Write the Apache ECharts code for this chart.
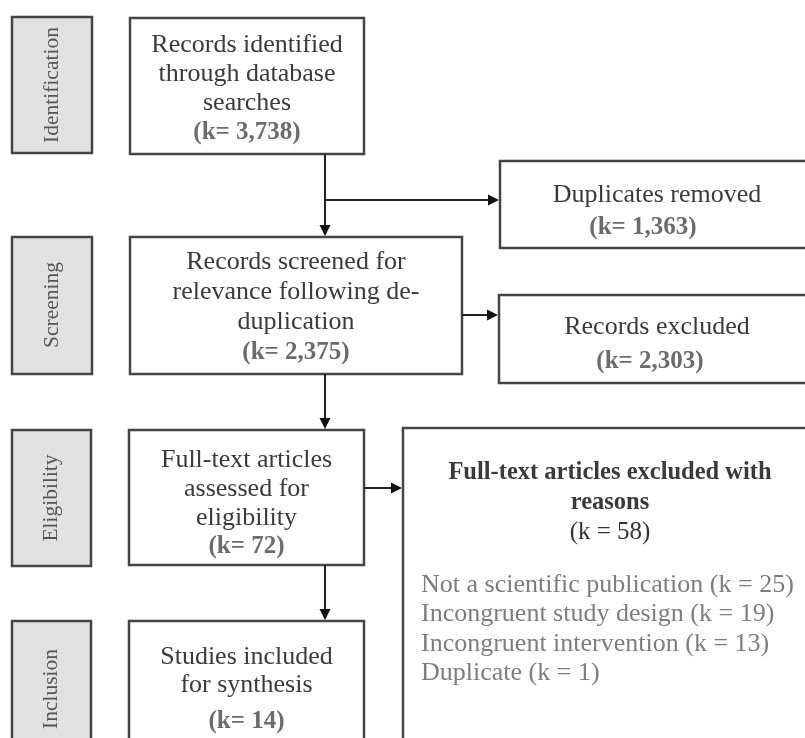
<!DOCTYPE html>
<html><head><meta charset="utf-8">
<script src="https://cdn.jsdelivr.net/npm/echarts@6/dist/echarts.min.js"></script>
<style>html,body{margin:0;padding:0;background:#fff}#c{width:805px;height:738px}</style>
</head><body><div id="c"></div>
<script>
// ---- data ----
const stages = ['Identification', 'Screening', 'Eligibility', 'Inclusion'];
const mainTitles = ['Records identified\nthrough database\nsearches',
  'Records screened for\nrelevance following de-\nduplication',
  'Full-text articles\nassessed for\neligibility',
  'Studies included\nfor synthesis'];
const mainCounts = [3738, 2375, 72, 14];
const sideTitles = ['Duplicates removed', 'Records excluded', 'Full-text articles excluded with\nreasons'];
const sideCounts = [1363, 2303, 58];
const reasons = ['Not a scientific publication', 'Incongruent study design', 'Incongruent intervention', 'Duplicate'];
const reasonCounts = [25, 19, 13, 1];

// ---- layout (pixel-space of the hidden axes) ----
const L = {
  stageBox: [[12, 17, 80, 136], [12, 237, 80, 137], [12, 430, 79, 136], [12, 621, 79, 140]],
  stageMid: 68,
  mainBox: [[130, 18, 234, 136], [130, 237, 332, 137], [129, 430, 235, 135], [129, 621, 235, 140]],
  mainTitleY: [74, 292, 489, 671], mainCountY: [133, 353, 547, 722],
  mainTitleLH: [29, 30, 29, 28],
  sideBox: [[500, 161, 320, 87], [499, 295, 320, 88], [403, 428, 420, 340]],
  sideTitleXY: [[657, 195], [657, 327], [610, 488]], sideCountXY: [[643, 228], [650, 362], [610, 532]],
  reasonX: 421, reasonY0: 585, reasonDY: 29.4,
  arrows: [[[325, 154], [325, 236]], [[325, 200], [499, 200]], [[462, 315], [498, 315]],
           [[325, 374], [325, 429]], [[364, 488], [402, 488]], [[325, 565], [325, 620]]]
};
const SERIF = '"Liberation Serif","DejaVu Serif",serif';
const fmt = n => n.toLocaleString('en-US');

const items = [];
stages.forEach((s, i) => {
  items.push({ kind: 'box', r: L.stageBox[i], fill: '#e1e1e1' });
  items.push({ kind: 'vtext', text: s, cx: L.stageBox[i][0] + L.stageBox[i][2] / 2, cy: L.stageBox[i][1] + L.stageMid });
});
mainTitles.forEach((t, i) => {
  const r = L.mainBox[i];
  items.push({ kind: 'box', r, fill: '#fff' });
  items.push({ kind: 'text', text: t, x: r[0] + r[2] / 2, y: L.mainTitleY[i], lh: L.mainTitleLH[i], size: 26, color: '#3a3a3a', weight: 'normal' });
  items.push({ kind: 'text', text: '(k= ' + fmt(mainCounts[i]) + ')', x: r[0] + r[2] / 2, y: L.mainCountY[i], lh: 28, size: 25, color: '#6b6b6b', weight: 'bold' });
});
sideTitles.forEach((t, i) => {
  items.push({ kind: 'box', r: L.sideBox[i], fill: '#fff' });
  const big = i === 2;
  items.push({ kind: 'text', text: t, x: L.sideTitleXY[i][0], y: L.sideTitleXY[i][1], lh: 30, size: big ? 24.5 : 26, color: '#3a3a3a', weight: big ? 'bold' : 'normal' });
  items.push({ kind: 'text', text: (big ? '(k = ' : '(k= ') + fmt(sideCounts[i]) + ')', x: L.sideCountXY[i][0], y: L.sideCountXY[i][1], lh: 28, size: big ? 25 : 25, color: big ? '#333' : '#6b6b6b', weight: big ? 'normal' : 'bold' });
});
reasons.forEach((r, i) => {
  items.push({ kind: 'ltext', text: r + ' (k = ' + reasonCounts[i] + ')', x: L.reasonX, y: L.reasonY0 + i * L.reasonDY, size: 26, color: '#7d7d7d' });
});
L.arrows.forEach(a => items.push({ kind: 'arrow', a }));

function renderItem(params, api) {
  const it = items[api.value(0)];
  const P = (x, y) => api.coord([x, y]);
  if (it.kind === 'box') {
    const p0 = P(it.r[0], it.r[1]), p1 = P(it.r[0] + it.r[2], it.r[1] + it.r[3]);
    return { type: 'rect', shape: { x: p0[0], y: p0[1], width: p1[0] - p0[0], height: p1[1] - p0[1] },
      style: { fill: it.fill, stroke: '#444', lineWidth: 2.5 } };
  }
  if (it.kind === 'vtext') {
    const p = P(it.cx, it.cy);
    return { type: 'text', x: p[0], y: p[1], rotation: Math.PI / 2,
      style: { text: it.text, align: 'center', verticalAlign: 'middle', fontFamily: SERIF, fontSize: 21.5, fill: '#555' } };
  }
  if (it.kind === 'text') {
    const p = P(it.x, it.y);
    return { type: 'text', style: { text: it.text, x: p[0], y: p[1], align: 'center', verticalAlign: 'middle',
      fontFamily: SERIF, fontSize: it.size, fontWeight: it.weight, fill: it.color, lineHeight: it.lh } };
  }
  if (it.kind === 'ltext') {
    const p = P(it.x, it.y);
    return { type: 'text', style: { text: it.text, x: p[0], y: p[1], align: 'left', verticalAlign: 'middle',
      fontFamily: SERIF, fontSize: it.size, fill: it.color } };
  }
  if (it.kind === 'arrow') {
    const s = P(it.a[0][0], it.a[0][1]), e = P(it.a[1][0], it.a[1][1]);
    const dx = e[0] - s[0], dy = e[1] - s[1], len = Math.hypot(dx, dy), ux = dx / len, uy = dy / len;
    const hl = 11, hw = 5.5;
    const bx = e[0] - ux * hl, by = e[1] - uy * hl;
    return { type: 'group', children: [
      { type: 'line', shape: { x1: s[0], y1: s[1], x2: bx, y2: by }, style: { stroke: '#222', lineWidth: 2 } },
      { type: 'polygon', shape: { points: [[e[0], e[1]], [bx - uy * hw, by + ux * hw], [bx + uy * hw, by - ux * hw]] }, style: { fill: '#111' } }
    ] };
  }
}

const chart = echarts.init(document.getElementById('c'), null, { renderer: 'canvas' });
chart.setOption({
  animation: false,
  grid: { left: 0, right: 0, top: 0, bottom: 0 },
  xAxis: { type: 'value', min: 0, max: 805, show: false },
  yAxis: { type: 'value', min: 0, max: 738, inverse: true, show: false },
  series: [{ type: 'custom', renderItem, clip: true, data: items.map((_, i) => [i]), silent: true }]
});
</script></body></html>
